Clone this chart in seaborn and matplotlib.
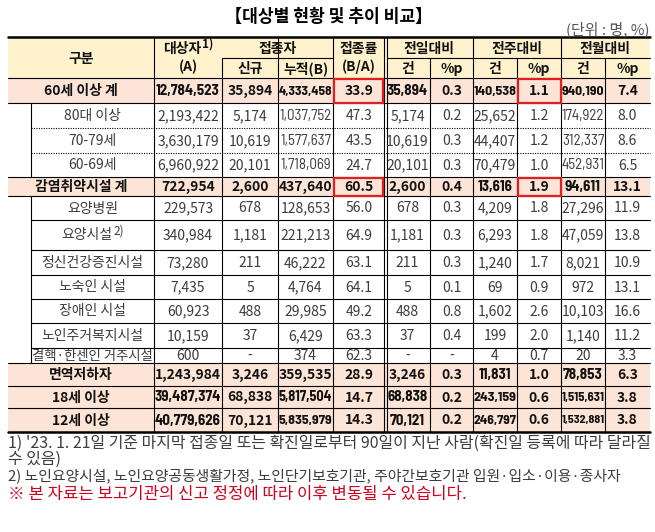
import matplotlib
matplotlib.use("Agg")
import matplotlib.pyplot as plt
import seaborn as sns
from matplotlib import font_manager
from matplotlib.font_manager import FontProperties
from matplotlib.patches import Rectangle

sns.set_theme(style="white")
plt.rcParams["font.family"] = ["Noto Sans CJK KR", "DejaVu Sans"]

# ---- data -------------------------------------------------------------
TITLE = "【대상별 현황 및 추이 비교】"
UNIT = "(단위 : 명, %)"

row_labels = ["60세 이상 계", "80대 이상", "70-79세", "60-69세", "감염취약시설 계",
              "요양병원", "요양시설", "정신건강증진시설", "노숙인 시설", "장애인 시설",
              "노인주거복지시설", "결핵·한센인 거주시설", "면역저하자", "18세 이상", "12세 이상"]
row_kind = ["group", "sub", "sub", "sub", "group", "sub", "sub", "sub", "sub", "sub",
            "sub", "sub", "total", "total", "total"]
label_notes = {6: "2)"}

target_a = [12784523, 2193422, 3630179, 6960922, 722954, 229573, 340984, 73280, 7435,
            60923, 10159, 600, 1243984, 39487374, 40779626]
new_doses = [35894, 5174, 10619, 20101, 2600, 678, 1181, 211, 5, 488, 37, None,
             3246, 68838, 70121]
cum_b = [4333458, 1037752, 1577637, 1718069, 437640, 128653, 221213, 46222, 4764,
         29985, 6429, 374, 359535, 5817504, 5835979]
rate = [33.9, 47.3, 43.5, 24.7, 60.5, 56.0, 64.9, 63.1, 64.1, 49.2, 63.3, 62.3,
        28.9, 14.7, 14.3]
day_cnt = [35894, 5174, 10619, 20101, 2600, 678, 1181, 211, 5, 488, 37, None,
           3246, 68838, 70121]
day_pp = [0.3, 0.2, 0.3, 0.3, 0.4, 0.3, 0.3, 0.3, 0.1, 0.8, 0.4, None, 0.3, 0.2, 0.2]
week_cnt = [140538, 25652, 44407, 70479, 13616, 4209, 6293, 1240, 69, 1602, 199, 4,
            11831, 243159, 246797]
week_pp = [1.1, 1.2, 1.2, 1.0, 1.9, 1.8, 1.8, 1.7, 0.9, 2.6, 2.0, 0.7, 1.0, 0.6, 0.6]
month_cnt = [940190, 174922, 312337, 452931, 94611, 27296, 47059, 8021, 972, 10103,
             1140, 20, 78853, 1515631, 1532881]
month_pp = [7.4, 8.0, 8.6, 6.5, 13.1, 11.9, 13.8, 10.9, 13.1, 16.6, 11.2, 3.3, 6.3,
            3.8, 3.8]

columns = [target_a, new_doses, cum_b, rate, day_cnt, day_pp, week_cnt, week_pp,
           month_cnt, month_pp]

group_heads = ["접종자", "전일대비", "전주대비", "전월대비"]
sub_heads = ["신규", "누적(B)", "건", "%p", "건", "%p", "건", "%p"]

footnotes = [
    "1) '23. 1. 21일 기준 마지막 접종일 또는 확진일로부터 90일이 지난 사람(확진일 등록에 따라 달라질",
    "수 있음)",
    "2) 노인요양시설, 노인요양공동생활가정, 노인단기보호기관, 주야간보호기관 입원·입소·이용·종사자",
]
notice = "※ 본 자료는 보고기관의 신고 정정에 따라 이후 변동될 수 있습니다."

# cells framed in red: (row, column index into `columns`)
boxed = [(0, 3), (0, 7), (4, 3), (4, 7)]

# ---- layout -----------------------------------------------------------
W, H = 655, 532
LEFT, INDENT, RIGHT = 8, 31, 650
col_edges = [154, 222, 278, 333, 385, 430, 473, 517, 561, 605, 650]
head_top, head_mid, head_bot = 37, 58, 78
row_heights = [25, 25, 25, 24, 19, 24, 30, 25, 24, 24, 25, 15, 23, 22, 24]
dotted_after = {1, 2}

YELLOW = "#FFF2CC"
PEACH = "#FCE4D6"
RED = "#E02020"
TXT = "#3c3c3c"
LW = 0.8

NARROW_NAMES = ["Barlow Semi Condensed", "Asap Condensed", "Encode Sans Condensed",
                "Roboto Condensed"]


def narrow_face(weight):
    """A condensed face for numbers that overflow their cell (like a shrunk spreadsheet cell)."""
    for name in NARROW_NAMES:
        cands = []
        for f in font_manager.fontManager.ttflist:
            if f.name != name or f.style != "normal":
                continue
            try:
                cands.append((abs(int(f.weight) - weight), f.fname))
            except (TypeError, ValueError):
                continue
        if cands:
            return min(cands)[1]
    return None


NARROW = {"normal": narrow_face(400), "bold": narrow_face(700)}

fig = plt.figure(figsize=(W / 100, H / 100), dpi=100)
ax = fig.add_axes([0, 0, 1, 1])
ax.set_xlim(0, W)
ax.set_ylim(H, 0)
ax.axis("off")
renderer = fig.canvas.get_renderer()


def width_of(t):
    return t.get_window_extent(renderer).width


def put(x, y, s, width=None, ha="center", narrow=False, **kw):
    t = ax.text(x, y, s, ha=ha, va="center", **kw)
    if width and width_of(t) > width:
        path = NARROW.get(kw.get("fontweight", "normal")) if narrow else None
        if path:
            size = t.get_fontsize()
            t.set_fontproperties(FontProperties(fname=path, size=size * 1.08))
        w = width_of(t)
        if w > width:
            t.set_fontsize(t.get_fontsize() * width / w)
    return t


def fit(t, width):
    t.set_fontsize(t.get_fontsize() * width / width_of(t))
    return t


def fmt(v):
    if v is None:
        return "-"
    if isinstance(v, float):
        return f"{v:.1f}"
    return f"{v:,}"


row_edges = [head_bot]
for h in row_heights:
    row_edges.append(row_edges[-1] + h)
bottom = row_edges[-1]

# fills
ax.add_patch(Rectangle((LEFT, head_top), RIGHT - LEFT, head_bot - head_top,
                       facecolor=YELLOW, edgecolor="none"))
for i, kind in enumerate(row_kind):
    if kind != "sub":
        ax.add_patch(Rectangle((LEFT, row_edges[i]), RIGHT - LEFT,
                               row_edges[i + 1] - row_edges[i],
                               facecolor=PEACH, edgecolor="none"))

# horizontal rules
ax.plot([LEFT, RIGHT], [head_top, head_top], color="black", lw=1.8)
ax.plot([col_edges[1], col_edges[3]], [head_mid, head_mid], color="black", lw=LW)
ax.plot([col_edges[4] + 2, RIGHT], [head_mid, head_mid], color="black", lw=LW)
ax.plot([LEFT, RIGHT], [head_bot, head_bot], color="black", lw=LW)
for i in range(len(row_kind)):
    y = row_edges[i + 1]
    if i == len(row_kind) - 1:
        ax.plot([LEFT, RIGHT], [y, y], color="black", lw=1.8)
        continue
    x0 = INDENT if row_kind[i] == "sub" and row_kind[i + 1] == "sub" else LEFT
    ls = (0, (1, 1.2)) if i in dotted_after else "-"
    ax.plot([x0, RIGHT], [y, y], color="black", lw=LW, ls=ls)

# vertical rules
for i, kind in enumerate(row_kind):
    if kind == "sub":
        ax.plot([INDENT, INDENT], [row_edges[i], row_edges[i + 1]], color="black", lw=LW)
for x in [col_edges[0], col_edges[2], col_edges[3], col_edges[6], col_edges[8]]:
    ax.plot([x, x], [head_top, bottom], color="black", lw=LW)
for x in [col_edges[1], col_edges[5], col_edges[7], col_edges[9]]:
    ax.plot([x, x], [head_mid, bottom], color="black", lw=LW)
for x in [col_edges[4] - 1.5, col_edges[4] + 1.5]:
    ax.plot([x, x], [head_top, bottom], color="black", lw=LW)

# header text
hkw = dict(fontsize=10, color="#111111", fontweight="bold")
put((LEFT + col_edges[0]) / 2, (head_top + head_bot) / 2 + 1, "구분", **hkw)
t = put((col_edges[0] + col_edges[1]) / 2 - 6, 49, "대상자", **hkw)
ax.annotate("1)", xy=(1, 0.58), xycoords=t, xytext=(0.8, 0), textcoords="offset points",
            ha="left", va="baseline", fontsize=8.5, color="#111111", fontweight="bold")
put((col_edges[0] + col_edges[1]) / 2, 67, "(A)", **hkw)
put((col_edges[3] + col_edges[4]) / 2, 49, "접종률", **hkw)
put((col_edges[3] + col_edges[4]) / 2, 67, "(B/A)", **hkw)
spans = [(col_edges[1], col_edges[3]), (col_edges[4], col_edges[6]),
         (col_edges[6], col_edges[8]), (col_edges[8], col_edges[10])]
for (a, b), s in zip(spans, group_heads):
    put((a + b) / 2, (head_top + head_mid) / 2 + 1, s, **hkw)
sub_cols = [1, 2, 4, 5, 6, 7, 8, 9]
for c, s in zip(sub_cols, sub_heads):
    put((col_edges[c] + col_edges[c + 1]) / 2, (head_mid + head_bot) / 2 + 1, s, **hkw)

# body
for i, (label, kind) in enumerate(zip(row_labels, row_kind)):
    yc = (row_edges[i] + row_edges[i + 1]) / 2 + 0.5
    bold = kind != "sub"
    kw = dict(fontsize=10, color="#111111" if bold else TXT,
              fontweight="bold" if bold else "normal")
    x0 = INDENT if kind == "sub" else LEFT
    xc = (x0 + col_edges[0]) / 2
    if i in label_notes:
        t = put(xc - 6, yc, label, **kw)
        ax.annotate(label_notes[i], xy=(1, 0.58), xycoords=t, xytext=(0.8, 0),
                    textcoords="offset points", ha="left", va="baseline",
                    fontsize=8.5, color=TXT)
    else:
        put(xc, yc, label, width=col_edges[0] - x0 - 2, **kw)
    for j, col in enumerate(columns):
        a, b = col_edges[j], col_edges[j + 1]
        put((a + b) / 2, yc, fmt(col[i]), width=b - a - 1, narrow=True, **kw)

for i, j in boxed:
    a, b = col_edges[j], col_edges[j + 1]
    if j == 3:
        b -= 2
    ax.add_patch(Rectangle((a + 0.5, row_edges[i] + 0.5), b - a - 1,
                           row_edges[i + 1] - row_edges[i] - 1,
                           facecolor="none", edgecolor=RED, lw=1.6, zorder=5))

# title and notes
fit(put(W / 2 + 1, 17, TITLE, fontsize=12, fontweight="bold", color="black"), 208)
fit(put(RIGHT, 29, UNIT, ha="right", fontsize=9, color="#555555"), 83)

fs = fit(put(LEFT, 443, footnotes[0], ha="left", fontsize=10, color=TXT),
         RIGHT - LEFT).get_fontsize()
put(LEFT, 459, footnotes[1], ha="left", fontsize=fs, color=TXT)
fit(put(LEFT, 476, footnotes[2], ha="left", fontsize=fs, color=TXT), 615)
fit(put(LEFT, 495, notice, ha="left", fontsize=fs, color="#D0001C"), 457)

fig.savefig("out.png", dpi=100)
